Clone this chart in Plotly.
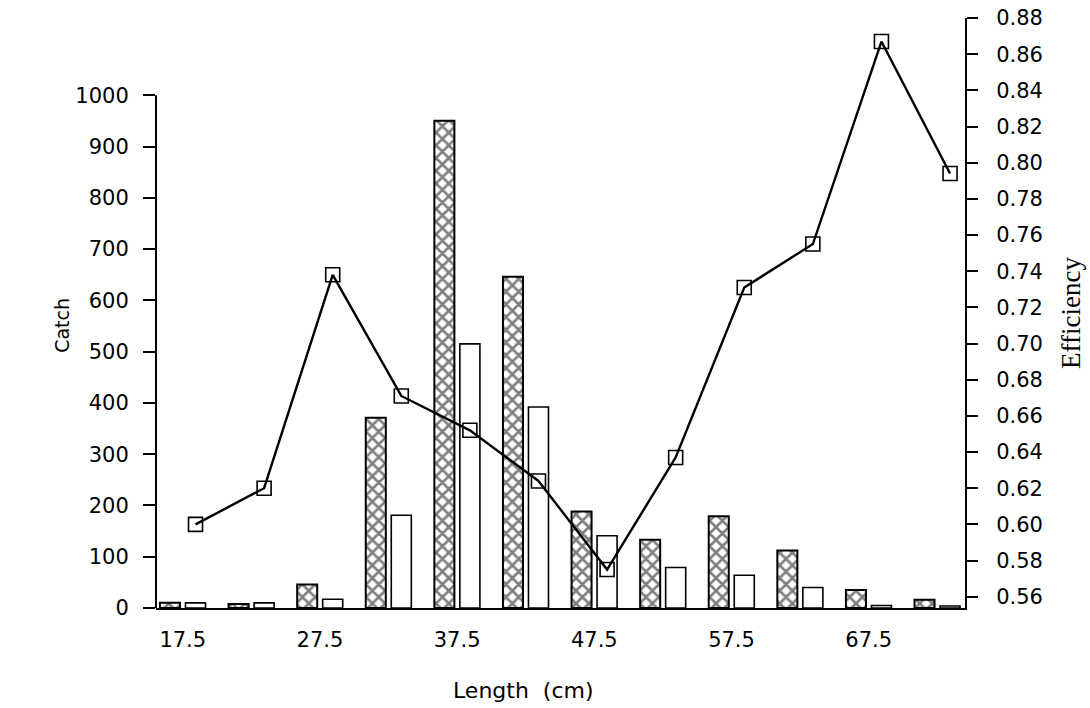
import plotly.graph_objects as go

# ---- data ----
lengths = [17.5, 22.5, 27.5, 32.5, 37.5, 42.5, 47.5, 52.5, 57.5, 62.5, 67.5, 72.5]
catch_hatched = [10, 8, 46, 371, 950, 646, 188, 133, 179, 112, 35, 16]
catch_open = [10, 10, 17, 181, 515, 392, 141, 79, 64, 40, 5, 4]
efficiency = [0.600, 0.620, 0.738, 0.671, 0.652, 0.624, 0.575, 0.637, 0.731, 0.755, 0.867, 0.794]

x_ticks = [17.5, 27.5, 37.5, 47.5, 57.5, 67.5]
x_ticklabels = ["17.5", "27.5", "37.5", "47.5", "57.5", "67.5"]
catch_ticks = [0, 100, 200, 300, 400, 500, 600, 700, 800, 900, 1000]
eff_ticks = [0.56, 0.58, 0.60, 0.62, 0.64, 0.66, 0.68, 0.70, 0.72, 0.74, 0.76, 0.78, 0.80, 0.82, 0.84, 0.86, 0.88]

# ---- style ----
BAR_W = 1.46
SHIFT = 0.93
SANS = "DejaVu Sans"
SERIF = "Liberation Serif"
TICK_SIZE = 21

fig = go.Figure()

fig.add_trace(go.Bar(
    x=lengths, y=catch_hatched, width=BAR_W, offset=-SHIFT - BAR_W / 2,
    marker=dict(color="white", line=dict(color="black", width=2),
                pattern=dict(shape="x", fgcolor="black", bgcolor="white", size=9, solidity=0.5)),
    showlegend=False, yaxis="y",
))
fig.add_trace(go.Bar(
    x=lengths, y=catch_open, width=BAR_W, offset=SHIFT - BAR_W / 2,
    marker=dict(color="white", line=dict(color="black", width=1.6)),
    showlegend=False, yaxis="y",
))
fig.add_trace(go.Scatter(
    x=[v + SHIFT for v in lengths], y=efficiency, mode="lines+markers",
    line=dict(color="black", width=2.4),
    marker=dict(symbol="square-open", size=14, color="black", line=dict(width=1.6, color="black")),
    showlegend=False, yaxis="y2",
))

fig.update_layout(
    width=1090, height=708,
    margin=dict(l=156, r=125, t=18, b=100, autoexpand=False),
    paper_bgcolor="white", plot_bgcolor="white",
    barmode="overlay",
    font=dict(family=SANS, size=TICK_SIZE, color="black"),
    xaxis=dict(range=[15.55, 74.52], tickvals=x_ticks, ticktext=x_ticklabels,
               showgrid=False, zeroline=False, showline=True, linecolor="black", linewidth=2,
               ticks="", ticklabelstandoff=12, tickfont=dict(family=SANS, size=TICK_SIZE)),
    yaxis=dict(range=[0, 1150.6], tickvals=catch_ticks, showgrid=False, zeroline=False,
               showline=False, ticks="outside", ticklen=12, tickwidth=2, tickcolor="black",
               ticklabelstandoff=10, tickfont=dict(family=SANS, size=TICK_SIZE)),
    yaxis2=dict(range=[0.55375, 0.88], tickvals=eff_ticks, tickformat=".2f", overlaying="y",
                side="right", showgrid=False, zeroline=False, showline=True, linecolor="black",
                linewidth=2, ticks="outside", ticklen=11, tickwidth=2, tickcolor="black",
                ticklabelstandoff=14, ticklabeloverflow="allow",
                tickfont=dict(family=SANS, size=TICK_SIZE)),
    shapes=[dict(type="line", xref="x domain", yref="y", x0=0, x1=0, y0=0, y1=1000,
                 line=dict(color="black", width=2))],
    annotations=[
        dict(text="Catch", xref="paper", yref="paper", x=-0.1162, y=0.48, xanchor="center",
             yanchor="middle", showarrow=False, textangle=-90, font=dict(family=SANS, size=19)),
        dict(text="Length  (cm)", xref="paper", yref="paper", x=0.454, y=-0.139, xanchor="center",
             yanchor="middle", showarrow=False, font=dict(family=SANS, size=22)),
        dict(text="Efficiency", xref="paper", yref="paper", x=1.131, y=0.5, xanchor="center",
             yanchor="middle", showarrow=False, textangle=-90, font=dict(family=SERIF, size=27)),
    ],
)

fig.write_html(
    "out.html",
    config={"displayModeBar": False},
    post_script="document.body.style.margin='0';document.body.style.overflow='hidden';",
)
